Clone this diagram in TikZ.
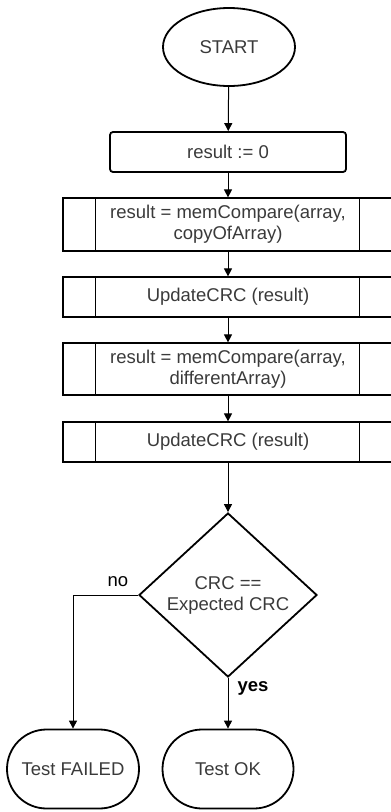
\documentclass[tikz,border=0pt]{standalone}
\usepackage{fontspec}
\setmainfont{Liberation Sans}
\usetikzlibrary{shapes.geometric,shapes.misc,arrows.meta}
\definecolor{txt}{HTML}{3A3A3A}
\begin{document}
\begin{tikzpicture}[x=1pt,y=-1pt,
  every node/.style={font=\fontsize{18.5}{21}\selectfont,text=txt,align=center},
  term/.style={draw,line width=1.8pt,ellipse,minimum width=132pt,minimum height=78pt,inner sep=0pt},
  procbox/.style={draw,line width=1.8pt,rounded corners=3pt,minimum width=236pt,minimum height=40pt,inner sep=0pt},
  subbox/.style={draw,line width=1.2pt,minimum width=330pt,inner sep=0pt},
  decbox/.style={draw,line width=1.8pt,diamond,minimum width=178pt,minimum height=164pt,inner sep=0pt},
  endbox/.style={draw,line width=1.8pt,rounded rectangle,minimum width=132pt,minimum height=79pt,inner sep=0pt},
  flow/.style={line width=1pt,-{Triangle[length=8pt,width=8pt]}}
]
\useasboundingbox (0,0) rectangle (391,812);
\clip (0,0) rectangle (391,812);
\node[term] (start) at (229,47) {START};
\node[procbox] (init) at (228,152) {result := 0};
\node[subbox,minimum height=53pt] (s1) at (228,224.5) {result = memCompare(array,\\copyOfArray)};
\node[subbox,minimum height=40pt] (s2) at (228,297) {UpdateCRC (result)};
\node[subbox,minimum height=52pt] (s3) at (228,369) {result = memCompare(array,\\differentArray)};
\node[subbox,minimum height=40pt] (s4) at (228,442) {UpdateCRC (result)};
\foreach \n in {s1,s2,s3,s4}{
  \draw[line width=1.2pt] ([xshift=33pt]\n.north west) -- ([xshift=33pt]\n.south west);
  \draw[line width=1.2pt] ([xshift=-34pt]\n.north east) -- ([xshift=-34pt]\n.south east);
}
\node[decbox] (dec) at (228,595) {CRC ==\\Expected CRC};
\node[endbox] (fail) at (73,769) {Test FAILED};
\node[endbox,minimum width=131pt] (ok) at (228,769) {Test OK};
\draw[flow] (start) -- (init);
\draw[flow] (init) -- (s1);
\draw[flow] (s1) -- (s2);
\draw[flow] (s2) -- (s3);
\draw[flow] (s3) -- (s4);
\draw[flow] (s4) -- (dec);
\draw[flow] (dec.west) -| (fail.north);
\draw[flow] (dec.south) -- (ok.north);
\node[text=black] (nolab) at (118,582) {no};
\node[text=black,font=\fontsize{18.5}{21}\selectfont\bfseries] (yeslab) at (253,688) {yes};
\end{tikzpicture}
\end{document}
